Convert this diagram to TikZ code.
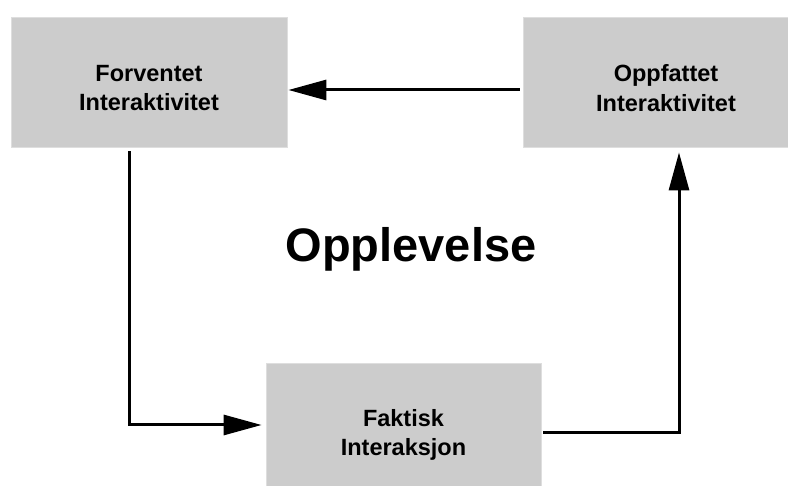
\documentclass[tikz,border=0pt]{standalone}
\usepackage{fontspec}
\setmainfont{Liberation Sans}
\usetikzlibrary{arrows.meta}
\definecolor{boxgray}{HTML}{CCCCCC}
\definecolor{boxedge}{HTML}{DEDEDE}
\tikzset{
  box/.style={fill=boxgray, draw=boxedge, line width=0.8pt, minimum width=276pt, minimum height=130pt, inner sep=0pt},
  lbl/.style={align=center, inner sep=0pt, font=\fontsize{23.5}{29.5}\selectfont\bfseries},
  arr/.style={line width=3pt, line join=miter, -{Triangle[length=38pt,width=20pt]}},
}
\begin{document}
\begin{tikzpicture}[x=1pt,y=-1pt]
\clip (0,0) rectangle (788,486);
\fill[white] (0,0) rectangle (788,486);
\node[box] (forv) at (149,82) {};
\node[box] (opp) at (661,82) {};
\node[box, minimum width=275pt] (fak) at (403.5,428) {};
\node[lbl] (forvT) at ([yshift=-6pt]forv.center) {Forventet\\Interaktivitet};
\node[lbl] (oppT) at ([xshift=5pt,yshift=-6pt]opp.center) {Oppfattet\\Interaktivitet};
\node[lbl] (fakT) at ([yshift=-7pt]fak.center) {Faktisk\\Interaksjon};
\node[anchor=base, inner sep=0pt, font=\fontsize{47}{50}\selectfont\bfseries] (opl) at (411,262) {Opplevelse};
\draw[arr] ([xshift=-3pt,yshift=-8pt]opp.west) -- ([xshift=1pt,yshift=-8pt]forv.east);
\draw[arr] ([xshift=-20pt,yshift=-4pt]forv.south) |- ([xshift=-4pt,yshift=3pt]fak.west);
\draw[arr] ([xshift=2pt,yshift=-5pt]fak.east) -| ([xshift=18pt,yshift=-5pt]opp.south);
\end{tikzpicture}
\end{document}
